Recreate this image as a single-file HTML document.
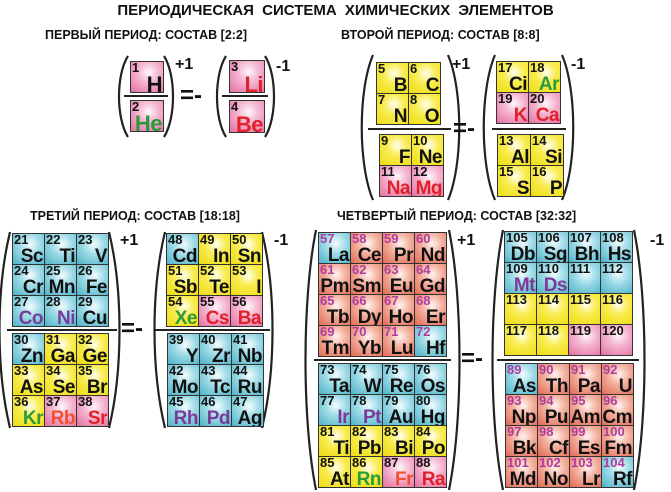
<!DOCTYPE html>
<html><head><meta charset="utf-8"><style>
*{margin:0;padding:0;box-sizing:border-box}
body{width:671px;height:492px;background:#fff;position:relative;overflow:hidden;font-family:"Liberation Sans",sans-serif;font-weight:bold;color:#111}
.t{position:absolute;white-space:nowrap;font-weight:bold}
.blk{position:absolute;display:grid;border:1.5px solid #333;background:#333;gap:1px}
.c{position:relative;overflow:hidden}
.c i{position:absolute;left:1px;top:-1px;font-style:normal;font-size:13px;line-height:14px}
.c b{position:absolute;right:1px;bottom:-3px;font-size:19px;line-height:21px;letter-spacing:-0.5px}
.y{background:radial-gradient(circle at 55% 35%,#fffef0 0%,#f8ec50 40%,#eedc10 100%)}
.u{background:radial-gradient(circle at 55% 35%,#f4fdff 0%,#9fdbe7 40%,#4db3c8 100%)}
.p{background:radial-gradient(circle at 55% 35%,#fff6fa 0%,#f4b5d0 40%,#e46fa0 100%)}
.s{background:radial-gradient(circle at 55% 35%,#fff4f0 0%,#f4b09e 40%,#e16a55 100%)}
.r{color:#e0202a}.g{color:#2a9a3a}.v{color:#7a3a9a}.m i{color:#b03ca0}.o{color:#f05030}
.big .c b{font-size:22px}
.e{font-size:16px}
</style></head><body>
<svg width="671" height="492" style="position:absolute;left:0;top:0" fill="none" stroke="#222" stroke-width="2.2">
<path d="M128 56 C116 75 116 118 128 137"/><path d="M164 56 C176 75 176 118 164 137"/>
<path d="M226 56 C214 75 214 118 226 137"/><path d="M265 56 C277 75 277 118 265 137"/>
<line x1="124" y1="96" x2="168" y2="96" stroke-width="2"/><line x1="222" y1="96" x2="268" y2="96" stroke-width="2"/>
<path d="M373 55 C358 90 358 165 373 200"/><path d="M448 55 C463 90 463 165 448 200"/>
<path d="M495 55 C480 90 480 165 495 200"/><path d="M562 55 C577 90 577 165 562 200"/>
<line x1="368" y1="129" x2="451" y2="129" stroke-width="2"/><line x1="492" y1="129" x2="566" y2="129" stroke-width="2"/>
<path d="M10 232 C-4 290 -4 370 10 428"/><path d="M109 232 C123 290 123 370 109 428"/>
<path d="M165 232 C151 290 151 370 165 428"/><path d="M262 232 C276 290 276 370 262 428"/>
<line x1="7" y1="330" x2="117" y2="330" stroke-width="2"/><line x1="155" y1="330" x2="270" y2="330" stroke-width="2"/>
<path d="M316 230 C302 300 302 420 316 490"/><path d="M449 230 C463 300 463 420 449 490"/>
<path d="M503 230 C489 300 489 420 503 490"/><path d="M634 230 C648 300 648 420 634 490"/>
<line x1="314" y1="360" x2="451" y2="360" stroke-width="2"/><line x1="497" y1="360" x2="639" y2="360" stroke-width="2"/>
</svg>

<div class="t" style="left:0;width:671px;text-align:center;top:2px;font-size:15px;word-spacing:4px">ПЕРИОДИЧЕСКАЯ СИСТЕМА ХИМИЧЕСКИХ ЭЛЕМЕНТОВ</div>
<div class="t" style="left:45px;top:28px;font-size:12.5px">ПЕРВЫЙ ПЕРИОД: СОСТАВ [2:2]</div>
<div class="t" style="left:341px;top:28px;font-size:12.5px">ВТОРОЙ ПЕРИОД: СОСТАВ [8:8]</div>
<div class="t" style="left:30px;top:209px;font-size:12.5px">ТРЕТИЙ ПЕРИОД: СОСТАВ [18:18]</div>
<div class="t" style="left:337px;top:209px;font-size:12.5px">ЧЕТВЕРТЫЙ ПЕРИОД: СОСТАВ [32:32]</div>

<div class="t e" style="left:175px;top:56px">+1</div>
<div class="t e" style="left:276px;top:58px">-1</div>
<div class="t" style="left:180px;top:82px;font-size:24px">=-</div>
<div class="t e" style="left:452px;top:56px">+1</div>
<div class="t e" style="left:571px;top:56px">-1</div>
<div class="t" style="left:453px;top:115px;font-size:24px">=-</div>
<div class="t e" style="left:120px;top:232px">+1</div>
<div class="t e" style="left:274px;top:232px">-1</div>
<div class="t" style="left:121px;top:315px;font-size:24px">=-</div>
<div class="t e" style="left:457px;top:232px">+1</div>
<div class="t e" style="left:650px;top:232px">-1</div>
<div class="t" style="left:461px;top:345px;font-size:24px">=-</div>

<div class="blk big" style="left:130px;top:61px;grid-template-columns:32px;grid-template-rows:30px"><div class="c p"><i>1</i><b>H</b></div></div>
<div class="blk big" style="left:130px;top:100px;grid-template-columns:32px;grid-template-rows:30px"><div class="c p"><i>2</i><b class="g">He</b></div></div>
<div class="blk big" style="left:229px;top:60px;grid-template-columns:34px;grid-template-rows:31px"><div class="c p"><i>3</i><b class="r">Li</b></div></div>
<div class="blk big" style="left:229px;top:100px;grid-template-columns:34px;grid-template-rows:31px"><div class="c p"><i>4</i><b class="r">Be</b></div></div>

<div class="blk" style="left:376px;top:62px;grid-template-columns:31px 31px;grid-template-rows:30px 30px">
<div class="c y"><i>5</i><b>B</b></div><div class="c y"><i>6</i><b>C</b></div>
<div class="c y"><i>7</i><b>N</b></div><div class="c y"><i>8</i><b>O</b></div></div>
<div class="blk" style="left:379px;top:134px;grid-template-columns:31px 31px;grid-template-rows:30px 30px">
<div class="c y"><i>9</i><b>F</b></div><div class="c y"><i>10</i><b>Ne</b></div>
<div class="c p"><i>11</i><b class="r">Na</b></div><div class="c p"><i>12</i><b class="r">Mg</b></div></div>
<div class="blk" style="left:496px;top:61px;grid-template-columns:31px 31px;grid-template-rows:30px 30px">
<div class="c y"><i>17</i><b>Ci</b></div><div class="c y"><i>18</i><b class="g">Ar</b></div>
<div class="c p"><i>19</i><b class="r">K</b></div><div class="c p"><i>20</i><b class="r">Ca</b></div></div>
<div class="blk" style="left:497px;top:134px;grid-template-columns:32px 32px;grid-template-rows:30px 30px">
<div class="c y"><i>13</i><b>Al</b></div><div class="c y"><i>14</i><b>Si</b></div>
<div class="c y"><i>15</i><b>S</b></div><div class="c y"><i>16</i><b>P</b></div></div>

<div class="blk" style="left:12px;top:233px;grid-template-columns:31px 31px 31px;grid-template-rows:30px 30px 30px">
<div class="c u"><i>21</i><b>Sc</b></div><div class="c u"><i>22</i><b>Ti</b></div><div class="c u"><i>23</i><b>V</b></div>
<div class="c u"><i>24</i><b>Cr</b></div><div class="c u"><i>25</i><b>Mn</b></div><div class="c u"><i>26</i><b>Fe</b></div>
<div class="c u"><i>27</i><b class="v">Co</b></div><div class="c u"><i>28</i><b class="v">Ni</b></div><div class="c u"><i>29</i><b>Cu</b></div></div>
<div class="blk" style="left:12px;top:333px;grid-template-columns:31px 31px 31px;grid-template-rows:30px 30px 30px">
<div class="c u"><i>30</i><b>Zn</b></div><div class="c y"><i>31</i><b>Ga</b></div><div class="c y"><i>32</i><b>Ge</b></div>
<div class="c y"><i>33</i><b>As</b></div><div class="c y"><i>34</i><b>Se</b></div><div class="c y"><i>35</i><b>Br</b></div>
<div class="c y"><i>36</i><b class="g">Kr</b></div><div class="c p"><i>37</i><b class="o">Rb</b></div><div class="c p"><i>38</i><b class="r">Sr</b></div></div>
<div class="blk" style="left:166px;top:233px;grid-template-columns:31px 31px 31px;grid-template-rows:30px 30px 30px">
<div class="c u"><i>48</i><b>Cd</b></div><div class="c y"><i>49</i><b>In</b></div><div class="c y"><i>50</i><b>Sn</b></div>
<div class="c y"><i>51</i><b>Sb</b></div><div class="c y"><i>52</i><b>Te</b></div><div class="c y"><i>53</i><b>I</b></div>
<div class="c y"><i>54</i><b class="g">Xe</b></div><div class="c p"><i>55</i><b class="r">Cs</b></div><div class="c p"><i>56</i><b class="r">Ba</b></div></div>
<div class="blk" style="left:167px;top:333px;grid-template-columns:31px 31px 31px;grid-template-rows:30px 30px 30px">
<div class="c u"><i>39</i><b>Y</b></div><div class="c u"><i>40</i><b>Zr</b></div><div class="c u"><i>41</i><b>Nb</b></div>
<div class="c u"><i>42</i><b>Mo</b></div><div class="c u"><i>43</i><b>Tc</b></div><div class="c u"><i>44</i><b>Ru</b></div>
<div class="c u"><i>45</i><b class="v">Rh</b></div><div class="c u"><i>46</i><b class="v">Pd</b></div><div class="c u"><i>47</i><b>Ag</b></div></div>

<div class="blk m" style="left:318px;top:232px;grid-template-columns:31px 31px 31px 31px;grid-template-rows:30px 30px 30px 30px">
<div class="c u"><i>57</i><b>La</b></div><div class="c s"><i>58</i><b>Ce</b></div><div class="c s"><i>59</i><b>Pr</b></div><div class="c s"><i>60</i><b>Nd</b></div>
<div class="c s"><i>61</i><b>Pm</b></div><div class="c s"><i>62</i><b>Sm</b></div><div class="c s"><i>63</i><b>Eu</b></div><div class="c s"><i>64</i><b>Gd</b></div>
<div class="c s"><i>65</i><b>Tb</b></div><div class="c s"><i>66</i><b>Dy</b></div><div class="c s"><i>67</i><b>Ho</b></div><div class="c s"><i>68</i><b>Er</b></div>
<div class="c s"><i>69</i><b>Tm</b></div><div class="c s"><i>70</i><b>Yb</b></div><div class="c s"><i>71</i><b>Lu</b></div><div class="c u"><i>72</i><b>Hf</b></div></div>
<div class="blk" style="left:318px;top:363px;grid-template-columns:31px 31px 31px 31px;grid-template-rows:30px 30px 30px 30px">
<div class="c u"><i>73</i><b>Ta</b></div><div class="c u"><i>74</i><b>W</b></div><div class="c u"><i>75</i><b>Re</b></div><div class="c u"><i>76</i><b>Os</b></div>
<div class="c u"><i>77</i><b class="v">Ir</b></div><div class="c u"><i>78</i><b class="v">Pt</b></div><div class="c u"><i>79</i><b>Au</b></div><div class="c u"><i>80</i><b>Hg</b></div>
<div class="c y"><i>81</i><b>Ti</b></div><div class="c y"><i>82</i><b>Pb</b></div><div class="c y"><i>83</i><b>Bi</b></div><div class="c y"><i>84</i><b>Po</b></div>
<div class="c y"><i>85</i><b>At</b></div><div class="c y"><i>86</i><b class="g">Rn</b></div><div class="c p"><i>87</i><b class="o">Fr</b></div><div class="c p"><i>88</i><b class="r">Ra</b></div></div>
<div class="blk" style="left:504px;top:231px;grid-template-columns:31px 31px 31px 31px;grid-template-rows:30px 30px 30px 30px">
<div class="c u"><i>105</i><b>Db</b></div><div class="c u"><i>106</i><b>Sg</b></div><div class="c u"><i>107</i><b>Bh</b></div><div class="c u"><i>108</i><b>Hs</b></div>
<div class="c u"><i>109</i><b class="v">Mt</b></div><div class="c u"><i>110</i><b class="v">Ds</b></div><div class="c u"><i>111</i></div><div class="c u"><i>112</i></div>
<div class="c y"><i>113</i></div><div class="c y"><i>114</i></div><div class="c y"><i>115</i></div><div class="c y"><i>116</i></div>
<div class="c y"><i>117</i></div><div class="c y"><i>118</i></div><div class="c p"><i>119</i></div><div class="c p"><i>120</i></div></div>
<div class="blk m" style="left:505px;top:363px;grid-template-columns:31px 31px 31px 31px;grid-template-rows:30px 30px 30px 30px">
<div class="c u"><i>89</i><b>As</b></div><div class="c s"><i>90</i><b>Th</b></div><div class="c s"><i>91</i><b>Pa</b></div><div class="c s"><i>92</i><b>U</b></div>
<div class="c s"><i>93</i><b>Np</b></div><div class="c s"><i>94</i><b>Pu</b></div><div class="c s"><i>95</i><b>Am</b></div><div class="c s"><i>96</i><b>Cm</b></div>
<div class="c s"><i>97</i><b>Bk</b></div><div class="c s"><i>98</i><b>Cf</b></div><div class="c s"><i>99</i><b>Es</b></div><div class="c s"><i>100</i><b>Fm</b></div>
<div class="c s"><i>101</i><b>Md</b></div><div class="c s"><i>102</i><b>No</b></div><div class="c s"><i>103</i><b>Lr</b></div><div class="c u"><i>104</i><b>Rf</b></div></div>
</body></html>
